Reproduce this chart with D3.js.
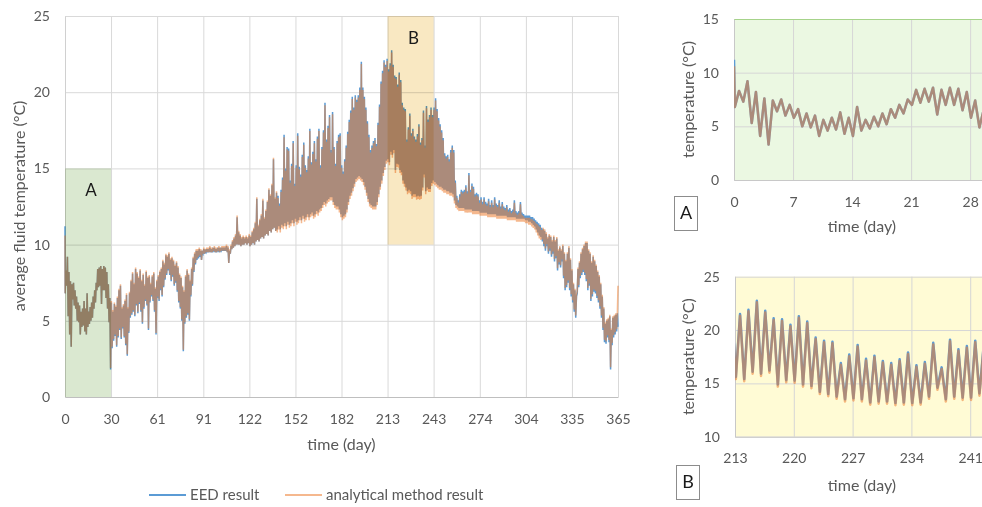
<!DOCTYPE html>
<html>
<head>
<meta charset="utf-8">
<script src="https://cdn.jsdelivr.net/npm/d3@7"></script>
<style>
  body { margin: 0; background: #fff; }
  svg { display: block; font-family: Lato, "Open Sans", sans-serif; }
</style>
</head>
<body>
<svg id="chart" width="982" height="507"></svg>
<script>
// daily minimum (early in the day) and maximum (mid-day) fluid temperature, day 0..364
const eedLow = [
  6.8, 7.3, 5.3, 4.1, 3.3, 6.4, 6.0, 5.8, 5.0, 4.9,
  4.1, 4.6, 4.7, 4.3, 4.1, 4.6, 4.8, 5.0, 5.2, 5.8,
  6.2, 7.0, 7.2, 7.3, 6.1, 7.0, 7.0, 6.5, 5.8, 4.9,
  1.8, 3.2, 3.7, 4.0, 3.3, 3.9, 4.4, 3.8, 4.5, 3.9,
  3.4, 2.7, 4.2, 5.2, 5.4, 5.6, 5.3, 6.0, 5.5, 6.1,
  5.6, 4.8, 5.8, 6.3, 6.0, 4.4, 6.2, 6.6, 6.3, 5.6,
  4.1, 6.5, 6.3, 7.0, 6.6, 7.2, 7.7, 8.0, 8.3, 8.0,
  7.6, 7.9, 7.3, 7.5, 6.9, 6.2, 5.8, 5.0, 3.0, 4.8,
  5.2, 5.4, 5.0, 6.6, 7.3, 8.2, 8.7, 9.0, 9.1, 9.2,
  9.0, 9.4, 9.4, 9.5, 9.5, 9.5, 9.5, 9.5, 9.6, 9.5,
  9.5, 9.6, 9.5, 9.6, 9.6, 9.6, 9.6, 9.5, 8.8, 9.4,
  9.7, 9.8, 9.9, 10.0, 10.0, 10.0, 9.9, 10.0, 10.0, 10.1,
  10.0, 10.1, 9.9, 10.0, 10.1, 10.0, 10.2, 10.3, 10.2, 10.4,
  10.5, 10.4, 10.6, 10.7, 10.6, 10.9, 10.8, 11.0, 11.1, 10.9,
  11.0, 11.2, 11.0, 11.3, 11.2, 11.4, 11.2, 11.5, 11.3, 11.4,
  11.6, 11.4, 11.7, 11.5, 11.6, 11.8, 11.6, 11.9, 11.7, 11.8,
  12.0, 11.8, 12.0, 12.1, 11.9, 12.0, 12.2, 12.1, 12.3, 12.4,
  12.6, 12.8, 12.7, 12.9, 13.0, 13.1, 13.1, 12.8, 12.6, 12.5,
  12.5, 12.3, 12.0, 11.8, 11.9, 12.0, 12.3, 12.8, 13.2, 13.4,
  13.7, 14.0, 14.3, 14.4, 14.5, 14.4, 14.3, 14.1, 13.8, 13.4,
  13.0, 12.7, 12.6, 12.5, 12.5, 12.5, 12.8, 13.3, 13.8, 14.2,
  14.7, 15.1, 15.5, 15.6, 15.4, 16.1, 15.9, 16.2, 14.9, 15.3,
  15.25, 14.9, 14.75, 14.2, 14.0, 13.75, 13.5, 13.6, 13.5, 13.2,
  13.3, 13.3, 13.15, 13.2, 13.15, 13.2, 13.75, 14.6, 13.5, 13.75,
  13.65, 13.65, 14.05, 14.2, 14.1, 14.0, 13.9, 13.8, 13.8, 13.7,
  13.6, 13.6, 13.5, 13.5, 13.4, 13.4, 13.3, 12.9, 12.6, 12.5,
  12.4, 12.4, 12.4, 12.4, 12.3, 12.3, 12.3, 12.3, 12.3, 12.2,
  12.2, 12.2, 12.2, 12.2, 12.1, 12.1, 12.1, 12.1, 12.1, 12.0,
  12.0, 12.0, 12.0, 12.0, 12.0, 11.9, 11.9, 11.9, 11.9, 11.9,
  11.9, 11.9, 11.8, 11.8, 11.8, 11.8, 11.8, 11.8, 11.7, 11.7,
  11.7, 11.7, 11.7, 11.7, 11.6, 11.6, 11.5, 11.5, 11.4, 11.3,
  11.2, 11.0, 10.8, 10.6, 10.5, 10.2, 9.9, 9.6, 9.9, 9.4,
  9.6, 9.2, 9.4, 8.9, 9.1, 8.3, 8.7, 8.5, 8.9, 7.8,
  7.0, 7.2, 7.5, 7.0, 6.6, 6.2, 5.6, 5.2, 6.8, 7.2,
  7.8, 8.0, 8.2, 8.0, 7.6, 7.0, 7.3, 6.3, 6.6, 6.9,
  6.8, 6.5, 6.2, 5.8, 5.2, 4.4, 3.6, 3.5, 3.9, 3.6,
  1.8, 3.4, 3.9, 4.1, 4.3
];
const eedHigh = [
  8.3, 9.2, 8.2, 7.6, 7.4, 7.5, 7.0, 6.6, 6.2, 6.0,
  5.6, 5.8, 6.3, 5.8, 6.8, 5.6, 5.9, 6.2, 6.6, 7.0,
  7.5, 8.4, 8.5, 8.6, 8.4, 8.6, 8.5, 8.2, 7.4, 6.5,
  6.2, 5.6, 6.1, 5.9, 6.5, 7.0, 7.3, 5.8, 6.0, 6.3,
  6.7, 5.8, 6.8, 7.6, 8.1, 7.4, 8.4, 8.1, 7.8, 8.3,
  7.6, 8.0, 7.3, 8.2, 7.8, 7.9, 7.4, 7.9, 8.1, 7.1,
  7.6, 7.9, 8.2, 8.4, 8.9, 8.7, 9.3, 9.2, 9.4, 9.0,
  9.1, 8.9, 8.6, 8.8, 8.5, 8.0, 7.8, 7.2, 6.9, 7.9,
  8.3, 8.0, 7.6, 8.4, 9.1, 9.4, 9.6, 9.6, 9.7, 9.6,
  9.5, 9.7, 9.6, 9.7, 9.7, 9.8, 9.7, 9.7, 9.8, 9.7,
  9.7, 9.8, 9.7, 9.8, 9.8, 9.8, 9.9, 9.8, 9.6, 9.9,
  10.2, 10.4, 10.6, 11.8, 10.8, 10.6, 10.4, 10.5, 10.4, 10.5,
  10.4, 10.6, 10.5, 10.8, 11.0, 11.4, 13.0, 11.2, 11.6, 11.9,
  12.9, 11.7, 12.2, 12.8, 13.6, 13.2, 13.9, 15.6, 13.0, 13.4,
  13.2, 12.7, 13.6, 14.4, 17.2, 15.0, 16.4, 16.3, 14.2, 15.3,
  16.8, 14.0, 15.2, 17.3, 15.1, 14.6, 15.9, 16.7, 15.2, 14.9,
  15.8, 17.6, 15.4, 16.1, 16.8, 15.6, 17.1, 17.6, 15.2, 16.4,
  17.5, 19.3, 16.9, 17.8, 18.5, 16.2, 18.7, 16.4, 15.3, 16.8,
  17.2, 17.3, 15.2, 14.8, 15.6, 16.5, 17.4, 18.2, 18.8, 19.7,
  19.0, 19.8, 19.5, 19.8, 20.3, 22.0, 20.3, 19.7, 19.0, 18.1,
  17.2, 16.2, 16.5, 16.8, 17.0, 16.6, 18.0, 19.2, 20.7, 21.4,
  22.1, 21.8, 22.2, 21.5, 21.9, 22.75, 21.8, 21.1, 21.0, 20.5,
  21.3, 20.8, 19.3, 19.0, 18.9, 16.9, 17.7, 18.6, 17.3, 17.6,
  17.1, 16.9, 17.25, 17.9, 16.7, 17.0, 18.8, 16.5, 19.1, 18.2,
  18.5, 19.0, 18.5, 19.0, 19.6, 18.9, 18.3, 17.9, 17.5, 17.0,
  16.0, 15.8, 15.9, 15.6, 16.2, 16.5, 16.2, 14.2, 13.2, 12.9,
  13.3, 13.6, 13.5, 13.6, 13.9, 13.5, 14.7, 13.6, 14.0, 13.8,
  13.3, 13.4, 13.3, 12.9, 13.1, 12.8, 13.1, 12.8, 12.7, 13.0,
  12.6, 12.9, 12.6, 13.1, 12.7, 12.6, 12.9, 12.5, 12.8, 12.5,
  12.4, 12.6, 12.3, 12.4, 12.2, 12.3, 12.9, 12.2, 12.1, 12.2,
  12.8, 12.1, 12.0, 11.9, 11.9, 11.9, 11.9, 11.8, 11.8, 11.7,
  11.6, 11.5, 11.4, 11.3, 11.1, 11.0, 10.9, 10.7, 10.4, 10.6,
  10.5, 10.2, 10.5, 10.2, 10.4, 9.6, 9.8, 9.6, 9.9, 9.4,
  8.9, 9.4, 9.8, 9.0, 8.3, 7.4, 7.0, 6.6, 8.4, 8.8,
  9.4, 9.7, 9.9, 10.1, 10.1, 9.6, 9.4, 8.8, 9.2, 8.9,
  8.6, 8.2, 7.9, 7.4, 6.6, 5.8, 4.8, 5.0, 5.1, 5.3,
  4.4, 5.2, 5.3, 5.4, 5.5
];
const anaLow = [
  6.8, 7.3, 5.3, 4.1, 3.3, 6.4, 6.0, 5.8, 5.0, 4.9,
  4.1, 4.6, 4.7, 4.3, 4.1, 4.6, 4.8, 5.0, 5.2, 5.8,
  6.2, 7.0, 7.2, 7.3, 6.1, 7.0, 7.0, 6.5, 5.8, 4.9,
  1.9, 3.3, 3.8, 4.1, 3.4, 4.0, 4.5, 3.9, 4.6, 4.0,
  3.5, 2.8, 4.3, 5.3, 5.5, 5.7, 5.4, 6.1, 5.6, 6.2,
  5.7, 4.9, 5.9, 6.4, 6.1, 4.5, 6.3, 6.7, 6.4, 5.7,
  4.2, 6.6, 6.4, 7.1, 6.7, 7.3, 7.8, 8.1, 8.4, 8.1,
  7.7, 8.0, 7.4, 7.6, 7.0, 6.3, 5.9, 5.1, 3.1, 4.9,
  5.3, 5.5, 5.1, 6.7, 7.4, 8.3, 8.8, 9.1, 9.2, 9.3,
  9.0, 9.4, 9.4, 9.5, 9.5, 9.5, 9.5, 9.5, 9.6, 9.5,
  9.5, 9.6, 9.5, 9.6, 9.6, 9.6, 9.6, 9.5, 8.8, 9.4,
  9.7, 9.8, 9.9, 10.0, 10.0, 10.0, 9.9, 10.0, 10.0, 10.1,
  10.0, 10.1, 9.9, 10.0, 10.1, 10.0, 10.2, 10.3, 10.2, 10.4,
  10.5, 10.4, 10.6, 10.7, 10.6, 10.9, 10.8, 11.0, 11.1, 10.9,
  10.8, 11.0, 10.8, 11.1, 11.0, 11.2, 11.0, 11.3, 11.1, 11.2,
  11.4, 11.2, 11.5, 11.3, 11.4, 11.6, 11.4, 11.7, 11.5, 11.6,
  11.8, 11.6, 11.8, 11.9, 11.7, 11.8, 12.0, 11.9, 12.1, 12.2,
  12.4, 12.6, 12.5, 12.7, 12.8, 12.9, 12.9, 12.6, 12.4, 12.3,
  12.3, 12.1, 11.8, 11.6, 11.7, 11.8, 12.1, 12.6, 13.0, 13.2,
  13.5, 13.8, 14.1, 14.2, 14.3, 14.2, 14.1, 13.9, 13.6, 13.2,
  12.8, 12.5, 12.4, 12.3, 12.3, 12.3, 12.6, 13.1, 13.6, 14.0,
  14.5, 14.9, 15.3, 15.4, 15.2, 15.9, 15.7, 16.0, 14.7, 15.1,
  15.05, 14.7, 14.55, 14.0, 13.8, 13.55, 13.3, 13.4, 13.3, 13.0,
  13.1, 13.1, 12.95, 13.0, 12.95, 13.0, 13.55, 14.4, 13.3, 13.55,
  13.45, 13.45, 13.85, 14.0, 13.9, 13.8, 13.7, 13.6, 13.6, 13.5,
  13.4, 13.4, 13.3, 13.3, 13.2, 13.2, 13.1, 12.7, 12.4, 12.3,
  12.2, 12.2, 12.2, 12.2, 12.1, 12.1, 12.1, 12.1, 12.1, 12.0,
  12.0, 12.0, 12.0, 12.0, 11.9, 11.9, 11.9, 11.9, 11.9, 11.8,
  11.8, 11.8, 11.8, 11.8, 11.8, 11.7, 11.7, 11.7, 11.7, 11.7,
  11.7, 11.7, 11.6, 11.6, 11.6, 11.6, 11.6, 11.6, 11.5, 11.5,
  11.5, 11.5, 11.5, 11.5, 11.4, 11.4, 11.3, 11.3, 11.2, 11.1,
  11.0, 10.8, 10.6, 10.4, 10.3, 10.35, 10.05, 9.75, 10.05, 9.55,
  9.75, 9.35, 9.55, 9.05, 9.25, 8.45, 8.85, 8.65, 9.05, 7.95,
  7.15, 7.35, 7.65, 7.15, 6.75, 6.35, 5.75, 5.35, 6.95, 7.35,
  7.95, 8.15, 8.35, 8.15, 7.75, 7.15, 7.45, 6.45, 6.75, 7.05,
  6.95, 6.65, 6.35, 5.95, 5.35, 4.55, 3.75, 3.65, 4.05, 3.75,
  1.95, 3.55, 4.05, 4.25, 4.45
];
const anaHigh = [
  8.3, 9.2, 8.2, 7.6, 7.4, 7.5, 7.0, 6.6, 6.2, 6.0,
  5.6, 5.8, 6.3, 5.8, 6.8, 5.6, 5.9, 6.2, 6.6, 7.0,
  7.5, 8.4, 8.5, 8.6, 8.4, 8.6, 8.5, 8.2, 7.4, 6.5,
  6.3, 5.7, 6.2, 6.0, 6.6, 7.1, 7.4, 5.9, 6.1, 6.4,
  6.8, 5.9, 6.9, 7.7, 8.2, 7.5, 8.5, 8.2, 7.9, 8.4,
  7.7, 8.1, 7.4, 8.3, 7.9, 8.0, 7.5, 8.0, 8.2, 7.2,
  7.7, 8.0, 8.3, 8.5, 9.0, 8.8, 9.4, 9.3, 9.5, 9.1,
  9.2, 9.0, 8.7, 8.9, 8.6, 8.1, 7.9, 7.3, 7.0, 8.0,
  8.4, 8.1, 7.7, 8.5, 9.2, 9.5, 9.7, 9.7, 9.8, 9.7,
  9.6, 9.8, 9.7, 9.8, 9.8, 9.9, 9.8, 9.8, 9.9, 9.8,
  9.8, 9.9, 9.8, 9.9, 9.9, 9.9, 10.0, 9.9, 9.7, 10.0,
  10.3, 10.5, 10.7, 11.9, 10.9, 10.7, 10.5, 10.6, 10.5, 10.6,
  10.5, 10.7, 10.6, 10.9, 11.1, 11.5, 13.1, 11.3, 11.7, 12.0,
  13.0, 11.8, 12.3, 12.9, 13.7, 13.3, 14.0, 15.7, 13.1, 13.5,
  13.05, 12.55, 13.45, 14.25, 17.05, 14.85, 16.25, 16.15, 14.05, 15.15,
  16.65, 13.85, 15.05, 17.15, 14.95, 14.45, 15.75, 16.55, 15.05, 14.75,
  15.65, 17.45, 15.25, 15.95, 16.65, 15.45, 16.95, 17.45, 15.05, 16.25,
  17.35, 19.15, 16.75, 17.65, 18.35, 16.05, 18.55, 16.25, 15.15, 16.65,
  17.05, 17.15, 15.05, 14.65, 15.45, 16.35, 17.25, 18.05, 18.65, 19.55,
  18.85, 19.65, 19.35, 19.65, 20.15, 21.85, 20.15, 19.55, 18.85, 17.95,
  17.05, 16.05, 16.35, 16.65, 16.85, 16.45, 17.85, 19.05, 20.55, 21.25,
  21.95, 21.65, 22.05, 21.35, 21.75, 22.6, 21.65, 20.95, 20.85, 20.35,
  21.15, 20.65, 19.15, 18.85, 18.75, 16.75, 17.55, 18.45, 17.15, 17.45,
  16.95, 16.75, 17.1, 17.75, 16.55, 16.85, 18.65, 16.35, 18.95, 18.05,
  18.35, 18.85, 18.35, 18.85, 19.45, 18.75, 18.15, 17.75, 17.35, 16.85,
  15.85, 15.65, 15.75, 15.45, 16.05, 16.35, 16.05, 14.05, 13.05, 12.75,
  13.15, 13.45, 13.35, 13.45, 13.75, 13.35, 14.55, 13.45, 13.85, 13.65,
  13.15, 13.25, 13.15, 12.75, 12.95, 12.65, 12.95, 12.65, 12.55, 12.85,
  12.45, 12.75, 12.45, 12.95, 12.55, 12.45, 12.75, 12.35, 12.65, 12.35,
  12.25, 12.45, 12.15, 12.25, 12.05, 12.15, 12.75, 12.05, 11.95, 12.05,
  12.65, 11.95, 11.85, 11.75, 11.75, 11.75, 11.75, 11.65, 11.65, 11.55,
  11.45, 11.35, 11.25, 11.15, 10.95, 11.1, 11.0, 10.8, 10.5, 10.7,
  10.6, 10.3, 10.6, 10.3, 10.5, 9.7, 9.9, 9.7, 10.0, 9.5,
  9.0, 9.5, 9.9, 9.1, 8.4, 7.5, 7.1, 6.7, 8.5, 8.9,
  9.5, 9.8, 10.0, 10.2, 10.2, 9.7, 9.5, 8.9, 9.3, 9.0,
  8.7, 8.3, 8.0, 7.5, 6.7, 5.9, 4.9, 5.1, 5.2, 5.4,
  4.5, 5.3, 5.4, 5.5, 5.6
];
const eedEnds = [11.2, 4.6];   // value at day 0 and day 365
const anaEnds = [10.6, 7.3];

const tickDays = [0, 30.4, 60.8, 91.3, 121.7, 152.1, 182.5, 212.9, 243.3, 273.8, 304.2, 334.6, 365];
const tickLabels = ["0", "30", "61", "91", "122", "152", "182", "213", "243", "274", "304", "335", "365"];
const tempTicks = [0, 5, 10, 15, 20, 25];
const zoneA = [0, 30.4, 0, 15];      // day from, day to, temp from, temp to
const zoneB = [212.9, 243.3, 10, 25];
const insetATicks = [0, 7, 14, 21, 28];
const insetATemps = [0, 5, 10, 15];
const insetBTicks = [213, 220, 227, 234, 241];
const insetBTemps = [10, 15, 20, 25];
const seriesNames = ["EED result", "analytical method result"];

const BLUE = "#5b9bd5";
const ORANGE = "rgb(237,125,49)";
const ORANGE_OP = 0.55;
const GREY = "#595959";

// turn the daily lows / highs into a time series
function buildSeries(low, high, ends) {
  let pts = [[0, ends[0]]];
  low.forEach((v, i) => {
    pts.push([i + 0.1, v]);
    pts.push([i + 0.6, high[i]]);
  });
  pts.push([365, ends[1]]);
  return pts;
}
const eed = buildSeries(eedLow, eedHigh, eedEnds);
const ana = buildSeries(anaLow, anaHigh, anaEnds);

const svg = d3.select("#chart");

// ---------- main chart ----------
const x = d3.scaleLinear().domain([0, 365]).range([65, 618]);
const y = d3.scaleLinear().domain([0, 25]).range([397, 16]);

svg.append("g")
  .attr("transform", "translate(0,397)")
  .call(d3.axisBottom(x).tickValues(tickDays).tickSize(-381).tickFormat(""))
  .call(g => g.select(".domain").remove())
  .selectAll("line").attr("stroke", "#d9d9d9");
svg.append("g")
  .attr("transform", "translate(65,0)")
  .call(d3.axisLeft(y).tickValues(tempTicks).tickSize(-553).tickFormat(""))
  .call(g => g.select(".domain").remove())
  .selectAll("line").attr("stroke", "#d9d9d9");

// axis lines + labels
let xa = svg.append("g")
  .attr("transform", "translate(0,397)")
  .call(d3.axisBottom(x).tickValues(tickDays).tickSize(0).tickPadding(17)
    .tickFormat((d, i) => tickLabels[i]));
xa.select(".domain").attr("stroke", "#bfbfbf");
let ya = svg.append("g")
  .attr("transform", "translate(65,0)")
  .call(d3.axisLeft(y).tickValues(tempTicks).tickSize(0).tickPadding(15));
ya.select(".domain").attr("stroke", "#d0d0d0");
svg.selectAll(".tick text")
  .attr("fill", GREY)
  .attr("font-size", 14)
  .attr("font-family", "Lato, 'Open Sans', sans-serif");

const line = d3.line().x(d => x(d[0])).y(d => y(d[1]));
svg.append("path").datum(eed)
  .attr("d", line).attr("fill", "none")
  .attr("stroke", BLUE).attr("stroke-width", 1.5);
svg.append("path").datum(ana)
  .attr("d", line).attr("fill", "none")
  .attr("stroke", ORANGE).attr("stroke-opacity", ORANGE_OP).attr("stroke-width", 1.5);

// highlighted zones
[[zoneA, "#dae8d0", "A"], [zoneB, "#f9e8c2", "B"]].forEach(([z, col, lab]) => {
  svg.append("rect")
    .attr("x", x(z[0])).attr("width", x(z[1]) - x(z[0]))
    .attr("y", y(z[3])).attr("height", y(z[2]) - y(z[3]))
    .attr("fill", col)
    .style("mix-blend-mode", "multiply");
  svg.append("text")
    .attr("x", (x(z[0]) + x(z[1])) / 2 + 3)
    .attr("y", y(z[3]) + 22)
    .attr("dy", "0.35em")
    .attr("text-anchor", "middle")
    .attr("font-size", 17)
    .attr("fill", "#1a1a1a")
    .text(lab);
});

svg.append("text")
  .attr("transform", "translate(19,206) rotate(-90)")
  .attr("text-anchor", "middle").attr("dy", "0.35em")
  .attr("font-size", 16).attr("fill", GREY)
  .text("average fluid temperature (°C)");
svg.append("text")
  .attr("x", 341.5).attr("y", 450)
  .attr("text-anchor", "middle")
  .attr("font-size", 16).attr("fill", GREY)
  .text("time (day)");

// legend
const legend = svg.append("g").attr("transform", "translate(149,495)");
legend.append("line").attr("x1", 0).attr("x2", 37)
  .attr("stroke", BLUE).attr("stroke-width", 2);
legend.append("text").attr("x", 41).attr("y", 5)
  .attr("font-size", 15).attr("fill", GREY).text(seriesNames[0]);
legend.append("line").attr("x1", 136).attr("x2", 173)
  .attr("stroke", ORANGE).attr("stroke-opacity", ORANGE_OP).attr("stroke-width", 2);
legend.append("text").attr("x", 177).attr("y", 5)
  .attr("font-size", 15).attr("fill", GREY).text(seriesNames[1]);

// ---------- zoomed insets ----------
function drawInset(cfg) {
  const ix = d3.scaleLinear().domain(cfg.xDomain).range(cfg.xRange);
  const iy = d3.scaleLinear().domain(cfg.yDomain).range(cfg.yRange);
  const g = svg.append("g");
  const top = cfg.yRange[1], bottom = cfg.yRange[0];

  g.append("rect")
    .attr("x", cfg.xRange[0]).attr("y", top)
    .attr("width", cfg.xRange[1] - cfg.xRange[0]).attr("height", bottom - top)
    .attr("fill", cfg.bg);

  g.append("g")
    .attr("transform", `translate(0,${bottom})`)
    .call(d3.axisBottom(ix).tickValues(cfg.xTicks).tickSize(top - bottom).tickFormat(""))
    .call(a => a.select(".domain").remove())
    .selectAll("line").attr("stroke", "#d6d6d6");
  g.append("g")
    .attr("transform", `translate(${cfg.xRange[0]},0)`)
    .call(d3.axisLeft(iy).tickValues(cfg.yTicks).tickSize(cfg.xRange[0] - cfg.xRange[1]).tickFormat(""))
    .call(a => a.select(".domain").remove())
    .selectAll("line").attr("stroke", d => d === cfg.yDomain[1] ? cfg.topLine : "#d6d6d6");

  const ax = g.append("g")
    .attr("transform", `translate(0,${bottom})`)
    .call(d3.axisBottom(ix).tickValues(cfg.xTicks).tickSize(0).tickPadding(cfg.xPad));
  ax.select(".domain").attr("stroke", "#c8c8c8");
  const ay = g.append("g")
    .attr("transform", `translate(${cfg.xRange[0]},0)`)
    .call(d3.axisLeft(iy).tickValues(cfg.yTicks).tickSize(0).tickPadding(15));
  ay.select(".domain").attr("stroke", "#c8c8c8");
  g.selectAll(".tick text")
    .attr("fill", GREY).attr("font-size", 14)
    .attr("font-family", "Lato, 'Open Sans', sans-serif");

  const clipId = "clip" + cfg.label;
  g.append("clipPath").attr("id", clipId)
    .append("rect")
    .attr("x", cfg.xRange[0]).attr("y", top - 3)
    .attr("width", cfg.xRange[1] - cfg.xRange[0]).attr("height", bottom - top + 6);
  const il = d3.line().x(d => ix(d[0])).y(d => iy(d[1]));
  const inRange = d => d[0] >= cfg.xDomain[0] - 1 && d[0] <= cfg.xDomain[1] + 1;
  g.append("path").datum(eed.filter(inRange))
    .attr("clip-path", `url(#${clipId})`)
    .attr("d", il).attr("fill", "none")
    .attr("stroke", BLUE).attr("stroke-width", 2.5).attr("stroke-linejoin", "round");
  g.append("path").datum(ana.filter(inRange))
    .attr("clip-path", `url(#${clipId})`)
    .attr("d", il).attr("fill", "none")
    .attr("stroke", ORANGE).attr("stroke-opacity", ORANGE_OP)
    .attr("stroke-width", 2.5).attr("stroke-linejoin", "round");

  g.append("text")
    .attr("transform", `translate(688,${(top + bottom) / 2}) rotate(-90)`)
    .attr("text-anchor", "middle").attr("dy", "0.35em")
    .attr("font-size", 16).attr("fill", GREY)
    .text("temperature (°C)");
  g.append("text")
    .attr("x", 862).attr("y", cfg.titleY)
    .attr("text-anchor", "middle")
    .attr("font-size", 16).attr("fill", GREY)
    .text("time (day)");

  g.append("rect")
    .attr("x", cfg.box[0] + 0.5).attr("y", cfg.box[1] + 0.5)
    .attr("width", 23).attr("height", 34)
    .attr("fill", "#fff").attr("stroke", "#8c8c8c");
  g.append("text")
    .attr("x", cfg.box[0] + 12).attr("y", cfg.box[1] + 17)
    .attr("dy", "0.36em").attr("text-anchor", "middle")
    .attr("font-size", 18).attr("fill", "#1a1a1a")
    .text(cfg.label);
}

drawInset({
  label: "A", xDomain: [0, 30], xRange: [734, 987], yDomain: [0, 15], yRange: [180, 19],
  xTicks: insetATicks, yTicks: insetATemps, bg: "#ebf8e2", topLine: "#a6d38a",
  xPad: 17, titleY: 232, box: [674, 196]
});
drawInset({
  label: "B", xDomain: [213, 243], xRange: [735, 987], yDomain: [10, 25], yRange: [436.7, 276.7],
  xTicks: insetBTicks, yTicks: insetBTemps, bg: "#fffbd5", topLine: "#d6d6d6",
  xPad: 16, titleY: 491, box: [676, 465]
});
</script>
</body>
</html>
